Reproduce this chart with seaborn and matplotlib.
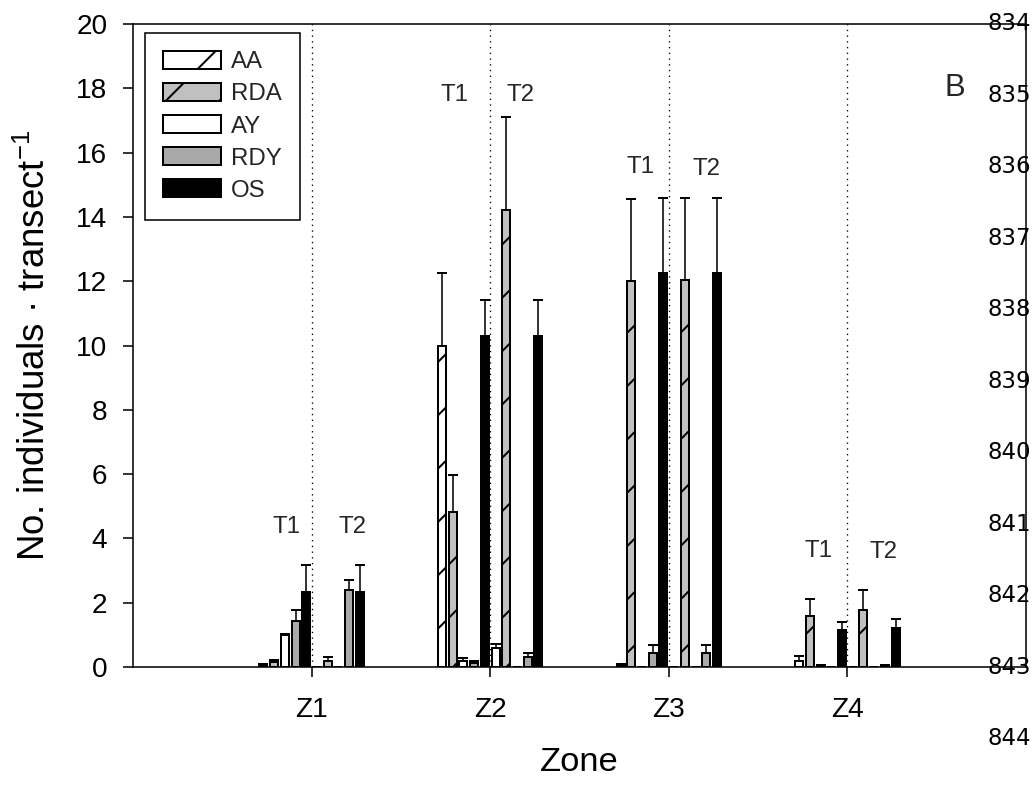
import matplotlib
matplotlib.use("Agg")
import matplotlib.pyplot as plt
from matplotlib.patches import Patch
import numpy as np
import pandas as pd
import seaborn as sns

# ---------------- data ----------------
zones = ["Z1", "Z2", "Z3", "Z4"]
periods = ["T1", "T2"]
groups = ["AA", "RDA", "AY", "RDY", "OS"]

# mean number of individuals per transect (Z1..Z4)
t1_AA = [0.05, 10.0, 0.05, 0.2]
t1_RDA = [0.15, 4.82, 12.0, 1.6]
t1_AY = [1.0, 0.2, 0.0, 0.05]
t1_RDY = [1.43, 0.13, 0.43, 0.0]
t1_OS = [2.33, 10.3, 12.25, 1.15]
t2_AA = [0.0, 0.6, 0.0, 0.0]
t2_RDA = [0.2, 14.2, 12.05, 1.78]
t2_AY = [0.0, 0.0, 0.0, 0.0]
t2_RDY = [2.38, 0.32, 0.43, 0.05]
t2_OS = [2.33, 10.3, 12.25, 1.2]

# upper error bars (Z1..Z4)
t1_AA_err = [0.03, 2.27, 0.03, 0.15]
t1_RDA_err = [0.08, 1.15, 2.55, 0.5]
t1_AY_err = [0.02, 0.08, 0.0, 0.02]
t1_RDY_err = [0.33, 0.06, 0.25, 0.0]
t1_OS_err = [0.83, 1.1, 2.35, 0.26]
t2_AA_err = [0.0, 0.13, 0.0, 0.0]
t2_RDA_err = [0.1, 2.9, 2.55, 0.6]
t2_AY_err = [0.0, 0.0, 0.0, 0.0]
t2_RDY_err = [0.32, 0.11, 0.25, 0.02]
t2_OS_err = [0.83, 1.1, 2.35, 0.28]

line_numbers = ["834", "835", "836", "837", "838", "839", "840", "841", "842", "843", "844"]

means = {
    ("T1", "AA"): t1_AA, ("T1", "RDA"): t1_RDA, ("T1", "AY"): t1_AY,
    ("T1", "RDY"): t1_RDY, ("T1", "OS"): t1_OS,
    ("T2", "AA"): t2_AA, ("T2", "RDA"): t2_RDA, ("T2", "AY"): t2_AY,
    ("T2", "RDY"): t2_RDY, ("T2", "OS"): t2_OS,
}
errors = {
    ("T1", "AA"): t1_AA_err, ("T1", "RDA"): t1_RDA_err, ("T1", "AY"): t1_AY_err,
    ("T1", "RDY"): t1_RDY_err, ("T1", "OS"): t1_OS_err,
    ("T2", "AA"): t2_AA_err, ("T2", "RDA"): t2_RDA_err, ("T2", "AY"): t2_AY_err,
    ("T2", "RDY"): t2_RDY_err, ("T2", "OS"): t2_OS_err,
}

# ---------------- style ----------------
face = {"AA": "white", "RDA": "#c0c0c0", "AY": "white", "RDY": "#a9a9a9", "OS": "black"}
hatch = {"AA": "/", "RDA": "/", "AY": None, "RDY": None, "OS": None}

sns.set_style("white")
plt.rcParams["font.family"] = ["Liberation Sans", "DejaVu Sans"]
plt.rcParams["mathtext.default"] = "regular"
plt.rcParams["hatch.linewidth"] = 0.9
plt.rcParams["hatch.color"] = "black"

series = [f"{p} {g}" for p in periods for g in groups]
rows = []
for p in periods:
    for g in groups:
        for i, z in enumerate(zones):
            rows.append({"zone": z, "series": f"{p} {g}", "value": means[(p, g)][i]})
df = pd.DataFrame(rows)
palette = {f"{p} {g}": face[g] for p in periods for g in groups}

DPI = 160
fig = plt.figure(figsize=(1036 / DPI, 787 / DPI), dpi=DPI)
ax = fig.add_axes([133 / 1036, 1 - 667 / 787, (1026 - 133) / 1036, (667 - 24) / 787])

# dotted zone separators
for i in range(len(zones)):
    ax.axvline(i, color="black", lw=0.6, linestyle=(0, (1, 3.3)), zorder=1)

sns.barplot(data=df, x="zone", y="value", hue="series", order=zones,
            hue_order=series, palette=palette, width=0.6, gap=0.25,
            saturation=1, errorbar=None, edgecolor="black", linewidth=0.9,
            legend=False, ax=ax, zorder=3)

for cont, s in zip(ax.containers, series):
    p, g = s.split()
    errs = errors[(p, g)]
    xs, ys, es = [], [], []
    for bar, e in zip(cont, errs):
        if hatch[g]:
            bar.set_hatch(hatch[g])
        h = bar.get_height()
        if h > 0:
            xs.append(bar.get_x() + bar.get_width() / 2)
            ys.append(h)
            es.append(e)
    if xs:
        ax.errorbar(xs, ys, yerr=[np.zeros(len(es)), es], fmt="none",
                    ecolor="black", elinewidth=0.7, capsize=2.1,
                    capthick=0.9, zorder=4)

ax.set_xlim(-1, 4)
ax.set_ylim(0, 20)
ax.set_yticks(np.arange(0, 21, 2))
ax.set_xticks(range(len(zones)))
ax.set_xticklabels(zones)
for sp in ax.spines.values():
    sp.set_visible(True)
    sp.set_color("black")
    sp.set_linewidth(0.7)
ax.tick_params(axis="both", which="major", direction="out", length=4.5,
               width=0.7, color="black", labelsize=12.6, labelcolor="black",
               bottom=True, left=True, top=False, right=False)
ax.tick_params(axis="x", pad=9)
ax.tick_params(axis="y", pad=7)

ax.set_xlabel("Zone", fontsize=15.5, color="black")
ax.set_ylabel("No. individuals · transect$^{-1}$", fontsize=16.5, color="black")
ax.xaxis.set_label_coords(0.5, -0.125)
ax.yaxis.set_label_coords(-0.09, 0.5)

# T1 / T2 labels above each group
t_labels = [
    (0, -0.14, 4.35, 0.23, 4.35),
    (1, -0.20, 17.8, 0.17, 17.8),
    (2, -0.157, 15.55, 0.21, 15.5),
    (3, -0.16, 3.62, 0.20, 3.58),
]
for zi, dx1, y1, dx2, y2 in t_labels:
    ax.text(zi + dx1, y1, "T1", ha="center", va="center", fontsize=10.8)
    ax.text(zi + dx2, y2, "T2", ha="center", va="center", fontsize=10.8)

# legend
handles = [Patch(facecolor=face[g], edgecolor="black", hatch=hatch[g],
                 linewidth=0.9, label=g) for g in groups]
leg = ax.legend(handles=handles, loc="upper left",
                bbox_to_anchor=(12 / 893, 1 - 9 / 643), borderaxespad=0,
                fontsize=10.8, handlelength=2.42, handleheight=0.79,
                handletextpad=0.42, labelspacing=0.40, borderpad=0.75,
                frameon=True, fancybox=False, framealpha=1)
leg.get_frame().set_edgecolor("black")
leg.get_frame().set_linewidth(0.7)

fig.text(955 / 1036, 1 - 88 / 787, "B", ha="center", va="center", fontsize=14)

# manuscript line numbers on the right margin
for i, lab in enumerate(line_numbers):
    ypx = 24 + i * (667 - 24) / 9
    fig.text(1031 / 1036, 1 - ypx / 787, lab, ha="right", va="center",
             fontsize=10.3, family="DejaVu Sans", color="black")

fig.savefig("out.png", dpi=DPI)
